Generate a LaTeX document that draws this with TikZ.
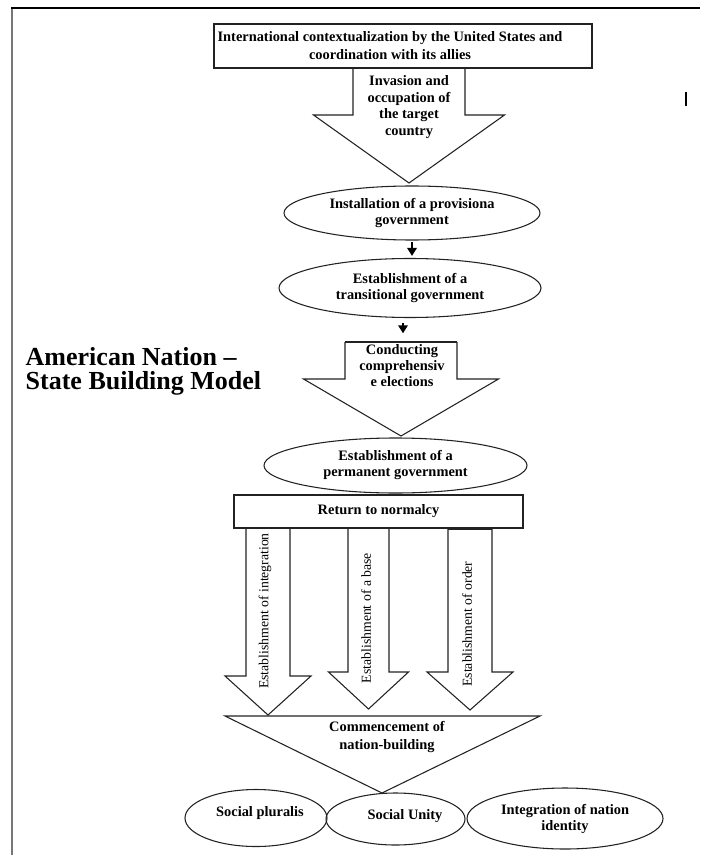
\documentclass[tikz,border=0pt]{standalone}
\usepackage{fontspec}
\setmainfont{Liberation Serif}
\usetikzlibrary{shapes.geometric,arrows.meta}
\definecolor{lineblack}{HTML}{222222}
\definecolor{framegray}{HTML}{777777}
% block arrow: centre x, top y, half shaft, head y, half head, tip y
\newcommand{\blockarrow}[6]{
  \draw[shapeline] (#1-#3,#2) -- (#1-#3,#4) -- (#1-#5,#4) -- (#1,#6)
    -- (#1+#5,#4) -- (#1+#3,#4) -- (#1+#3,#2);
}
\tikzset{
  shapeline/.style={draw=lineblack, line width=0.8pt},
  boldtext/.style={font=\bfseries\fontsize{10.8}{12}\selectfont, align=center, inner sep=0pt},
  sidetext/.style={font=\fontsize{10.3}{11}\selectfont, rotate=90, inner sep=0pt},
  stagebox/.style={shapeline, rectangle, inner sep=0pt},
  stageoval/.style={shapeline, ellipse, inner sep=0pt},
  smallarrow/.style={-{Triangle[width=7pt,length=6pt]}, line width=1.5pt, black},
}

\begin{document}
\begin{tikzpicture}[x=0.75pt, y=-0.75pt]
    \useasboundingbox (0,0) rectangle (700,855);
    \draw[framegray, line width=1.4pt] (12,855) -- (12,8);
    \draw[black, line width=1.1pt] (11,8) -- (700,8);
    \draw[black, line width=0.9pt] (686,92) -- (686,106);

    \node[anchor=west, align=left, font=\bfseries\fontsize{19.5}{18}\selectfont] (title) at (21,371)
      {American Nation --\\State Building Model};

    % top part
    \node[stagebox, minimum width=283.5pt, minimum height=33pt] (contextbox) at (403,46) {};
    \node[boldtext, font=\bfseries\fontsize{10.8}{13.5}\selectfont] (context) at (390,46)
      {International contextualization by the United States and\\coordination with its allies};
    \blockarrow{409}{68}{56}{115}{95.5}{183}
    \node[boldtext, font=\bfseries\fontsize{10.8}{12.4}\selectfont] (invasion) at (409,107)
      {Invasion and\\occupation of\\the target\\country};

    \node[stageoval, boldtext, minimum width=192pt, minimum height=40.5pt] (provisional) at (412,213)
      {Installation of a provisiona\\government};
    \node[stageoval, boldtext, minimum width=196.5pt, minimum height=44.25pt] (transitional) at (410,288)
      {Establishment of a\\transitional government};
    \draw[smallarrow, shorten <=1pt, shorten >=1.5pt] (provisional.south) -- (provisional.south |- transitional.north);

    \blockarrow{401}{342}{56}{379}{97.5}{436}
    \draw[shapeline] (345,342) -- (457,342);
    \coordinate (electop) at (403,342);
    \node[boldtext] (elections) at (402,366) {Conducting\\comprehensiv\\e elections};
    \draw[smallarrow, shorten <=4pt, shorten >=6.5pt] (transitional.south -| electop) -- (electop);

    \node[stageoval, boldtext, minimum width=197.25pt, minimum height=41.25pt] (permanent) at (395.5,465.5)
      {Establishment of a\\permanent government};
    \node[stagebox, boldtext, minimum width=216.75pt, minimum height=24.75pt] (normalcy) at (378.5,511.5)
      {Return to normalcy};

    % three arrows
    \blockarrow{268}{528}{22}{676}{43}{715}
    \blockarrow{368.5}{528}{20.5}{672}{40}{709}
    \blockarrow{470}{529}{22}{672}{43}{710}
    \draw[shapeline, line width=1.2pt] (448,529) -- (492,529);
    \node[sidetext] (integration) at (265,611) {Establishment of integration};
    \node[sidetext] (base) at (366,618) {Establishment of a base};
    \node[sidetext] (order) at (467,624) {Establishment of order};

    \draw[shapeline] (225,716) -- (540,716) -- (382,793) -- cycle;
    \node[boldtext, font=\bfseries\fontsize{10.8}{12.8}\selectfont] (commence) at (387,737)
      {Commencement of\\nation-building};

    % results
    \node[stageoval, minimum width=106.5pt, minimum height=42.75pt] (pluralism) at (256,818) {};
    \node[boldtext] (pluralismtext) at (260,813) {Social pluralis};
    \node[stageoval, minimum width=104.25pt, minimum height=39pt] (unity) at (395.5,819) {};
    \node[boldtext] (unitytext) at (405,816) {Social Unity};
    \node[stageoval, boldtext, minimum width=147pt, minimum height=45.75pt] (identity) at (565,818.5)
      {Integration of nation\\identity};
\end{tikzpicture}
\end{document}
